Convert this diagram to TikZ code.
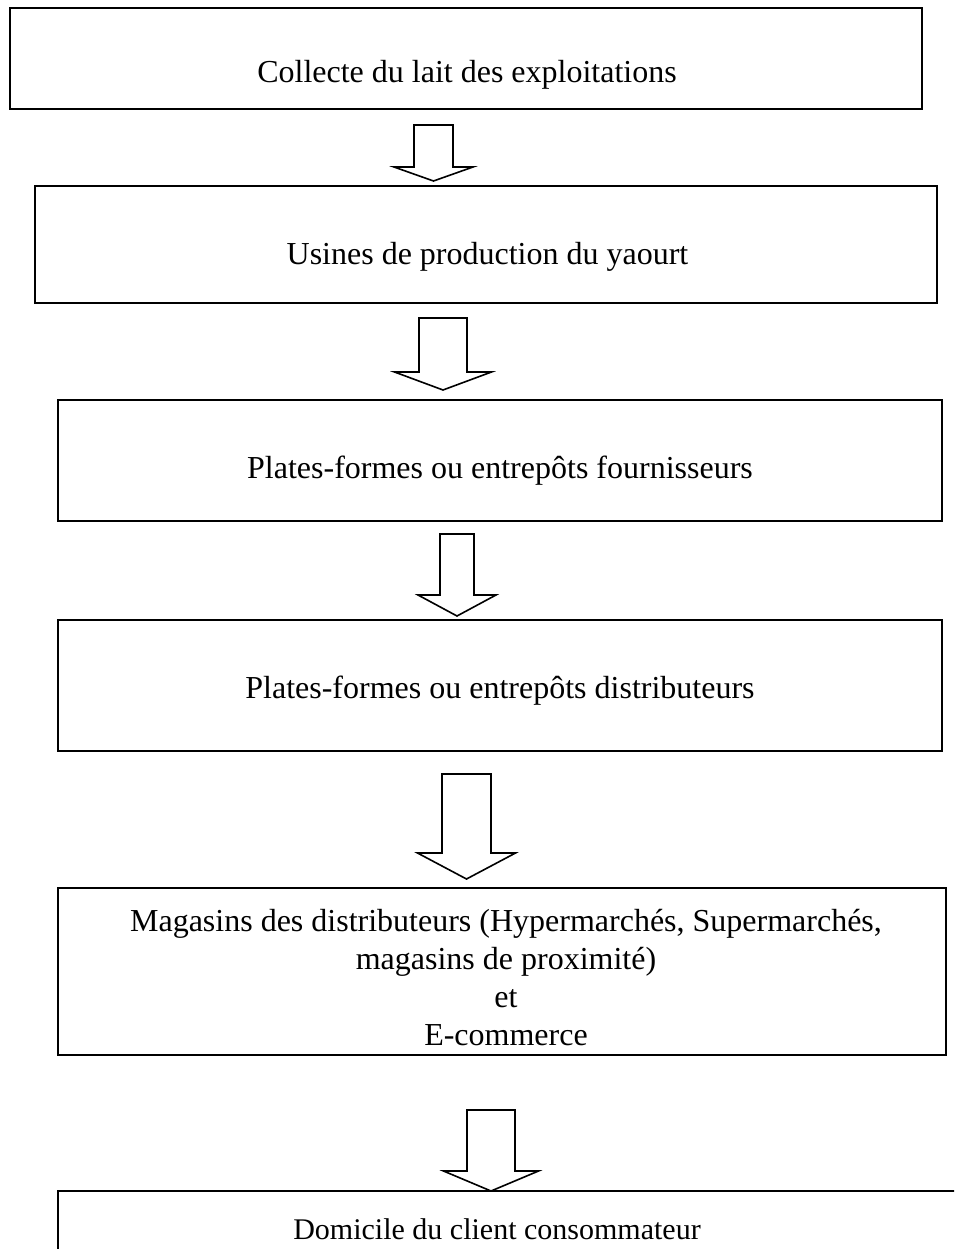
\documentclass[tikz,border=0pt]{standalone}
\usepackage{fontspec}
\setmainfont{Liberation Serif}
\begin{document}
\begin{tikzpicture}[x=1pt,y=-1pt,
  stagebox/.style={draw=black,line width=2pt,inner sep=0pt},
  stagetext/.style={anchor=base,inner sep=0pt,font=\fontsize{32}{38}\selectfont,align=center},
  blockarrow/.style={draw=black,line width=1.6pt,fill=white,line join=miter}]
\useasboundingbox (0,0) rectangle (954,1249);
\clip (0,0) rectangle (954,1249);
\newcommand\blockarr[7]{% name, cx, top, halfshaft, wingy, halfwing, tipy
  \draw[blockarrow] (#2-#4,#3) coordinate (#1) -- (#2+#4,#3) -- (#2+#4,#5) -- (#2+#6,#5)
    -- (#2,#7) coordinate (#1tip) -- (#2-#6,#5) -- (#2-#4,#5) -- cycle;}
% boxes
\draw[stagebox] (10,8) rectangle (922,109) node[pos=0.5] (b1) {};
\draw[stagebox] (35,186) rectangle (937,303) node[pos=0.5] (b2) {};
\draw[stagebox] (58,400) rectangle (942,521) node[pos=0.5] (b3) {};
\draw[stagebox] (58,620) rectangle (942,751) node[pos=0.5] (b4) {};
\draw[stagebox] (58,888) rectangle (946,1055) node[pos=0.5] (b5) {};
\draw[stagebox] (58,1191) rectangle (1000,1300) node[pos=0.5] (b6) {};
% texts
\node[stagetext] (t1) at (467,83) {Collecte du lait des exploitations};
\node[stagetext] (t2) at (487.5,265) {Usines de production du yaourt};
\node[stagetext] (t3) at (500,478) {Plates-formes ou entrepôts fournisseurs};
\node[stagetext] (t4) at (500,698) {Plates-formes ou entrepôts distributeurs};
\node[stagetext] (t5) at (506,1045) {Magasins des distributeurs (Hypermarchés, Supermarchés,\\ magasins de proximité)\\ et\\ E-commerce};
\node[stagetext,font=\fontsize{30}{36}\selectfont] (t6) at (497,1239) {Domicile du client consommateur};
% arrows
\blockarr{a1}{433.5}{125}{19.5}{167}{39.5}{181}
\blockarr{a2}{443}{318}{24}{372}{48.5}{390}
\blockarr{a3}{457}{534}{17}{595}{39}{616}
\blockarr{a4}{466.5}{774}{24.5}{853}{49}{879}
\blockarr{a5}{491}{1110}{24}{1171}{47.5}{1191}
\end{tikzpicture}
\end{document}
